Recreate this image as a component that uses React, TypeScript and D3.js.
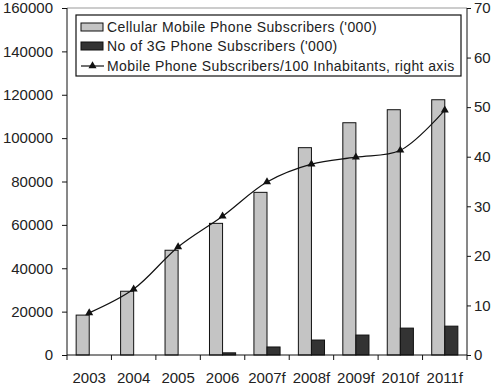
import { useEffect, useRef } from 'react';
import * as d3 from 'd3';

// 연도별 가입자 데이터
const years = ['2003', '2004', '2005', '2006', '2007f', '2008f', '2009f', '2010f', '2011f'];
const cellular = [18400, 29400, 48300, 60700, 75000, 95600, 107100, 113100, 117700];
const threeG = [0, 0, 0, 1000, 3700, 6900, 9200, 12400, 13300];
const per100 = [8.5, 13.3, 21.8, 28.0, 34.9, 38.5, 39.9, 41.3, 49.4];
const leftTicks = [0, 20000, 40000, 60000, 80000, 100000, 120000, 140000, 160000];
const rightTicks = [0, 10, 20, 30, 40, 50, 60, 70];
const legendLabels = [
  "Cellular Mobile Phone Subscribers ('000)",
  "No of 3G Phone Subscribers ('000)",
  'Mobile Phone Subscribers/100 Inhabitants, right axis',
];

export default function App() {
  const svgRef = useRef<SVGSVGElement>(null);

  useEffect(() => {
    if (!svgRef.current) return;
    const W = 500, H = 388;
    const plot = { left: 67, right: 467, top: 8, bottom: 355 };
    const font = 'Arial, "Liberation Sans", sans-serif';

    const svg = d3.select(svgRef.current);
    svg.selectAll('*').remove();
    svg.attr('width', W).attr('height', H);

    const x = d3.scaleBand().domain(years).range([plot.left, plot.right]).padding(0);
    const xs = d3.scaleBand().domain(['cell', 'g3']).range([0, x.bandwidth()])
      .paddingInner(0).paddingOuter(0.7);
    const yL = d3.scaleLinear().domain([0, 160000]).range([plot.bottom, plot.top]);
    const yR = d3.scaleLinear().domain([0, 70]).range([plot.bottom, plot.top]);

    // 상단 테두리
    svg.append('line')
      .attr('x1', plot.left).attr('x2', plot.right)
      .attr('y1', plot.top).attr('y2', plot.top)
      .attr('stroke', '#999').attr('stroke-width', 1);

    // 막대
    const g = svg.append('g');
    g.selectAll('rect.cell')
      .data(years)
      .join('rect')
      .attr('class', 'cell')
      .attr('x', (d) => x(d)! + xs('cell')!)
      .attr('y', (_, i) => yL(cellular[i]))
      .attr('width', xs.bandwidth())
      .attr('height', (_, i) => plot.bottom - yL(cellular[i]))
      .attr('fill', '#c4c4c4')
      .attr('stroke', '#111')
      .attr('stroke-width', 1);

    g.selectAll('rect.g3')
      .data(years.filter((_, i) => threeG[i] > 0))
      .join('rect')
      .attr('class', 'g3')
      .attr('x', (d) => x(d)! + xs('g3')!)
      .attr('y', (d) => yL(threeG[years.indexOf(d)]))
      .attr('width', xs.bandwidth())
      .attr('height', (d) => plot.bottom - yL(threeG[years.indexOf(d)]))
      .attr('fill', '#333')
      .attr('stroke', '#111')
      .attr('stroke-width', 1);

    // 선 (오른쪽 축)
    const cx = (d: string) => x(d)! + x.bandwidth() / 2;
    const line = d3.line<number>()
      .x((_, i) => cx(years[i]))
      .y((d) => yR(d))
      .curve(d3.curveCatmullRom.alpha(0.5));
    svg.append('path')
      .datum(per100)
      .attr('d', line)
      .attr('fill', 'none')
      .attr('stroke', '#111')
      .attr('stroke-width', 1.2);

    const tri = d3.symbol().type(d3.symbolTriangle).size(28);
    svg.selectAll('path.mk')
      .data(per100)
      .join('path')
      .attr('class', 'mk')
      .attr('d', tri)
      .attr('transform', (d, i) => `translate(${cx(years[i])},${yR(d)})`)
      .attr('fill', '#111');

    // 왼쪽 / 오른쪽 축
    const left = svg.append('g')
      .attr('transform', `translate(${plot.left},0)`)
      .call(d3.axisLeft(yL).tickValues(leftTicks).tickSize(5).tickPadding(9).tickFormat(d3.format('d')));
    const right = svg.append('g')
      .attr('transform', `translate(${plot.right},0)`)
      .call(d3.axisRight(yR).tickValues(rightTicks).tickSize(4).tickPadding(3).tickFormat(d3.format('d')));
    [left, right].forEach((ax) => {
      ax.select('.domain').remove();
      ax.selectAll('.tick line').attr('stroke', '#111');
      ax.selectAll('.tick text')
        .attr('font-family', font).attr('font-size', 15).attr('fill', '#222');
    });
    svg.append('line')
      .attr('x1', plot.left).attr('x2', plot.left)
      .attr('y1', plot.top).attr('y2', plot.bottom)
      .attr('stroke', '#111');
    svg.append('line')
      .attr('x1', plot.right).attr('x2', plot.right)
      .attr('y1', plot.top).attr('y2', plot.bottom)
      .attr('stroke', '#111');

    // X축
    svg.append('line')
      .attr('x1', plot.left).attr('x2', plot.right)
      .attr('y1', plot.bottom).attr('y2', plot.bottom)
      .attr('stroke', '#111');
    svg.selectAll('line.xt')
      .data(years.concat(['end']))
      .join('line')
      .attr('class', 'xt')
      .attr('x1', (d, i) => (i < years.length ? x(d)! : plot.right))
      .attr('x2', (d, i) => (i < years.length ? x(d)! : plot.right))
      .attr('y1', plot.bottom).attr('y2', plot.bottom + 5)
      .attr('stroke', '#111');
    svg.selectAll('text.xl')
      .data(years)
      .join('text')
      .attr('class', 'xl')
      .attr('x', (d) => cx(d))
      .attr('y', 383)
      .attr('text-anchor', 'middle')
      .attr('font-family', font)
      .attr('font-size', 15)
      .attr('fill', '#222')
      .text((d) => d);

    // 범례
    const lg = svg.append('g');
    lg.append('rect')
      .attr('x', 76).attr('y', 15).attr('width', 385).attr('height', 61)
      .attr('fill', '#fff').attr('stroke', '#111').attr('stroke-width', 1.2);
    const rowY = [27, 46, 66];
    lg.append('rect').attr('x', 81).attr('y', rowY[0] - 4).attr('width', 22).attr('height', 8)
      .attr('fill', '#c4c4c4').attr('stroke', '#111');
    lg.append('rect').attr('x', 81).attr('y', rowY[1] - 4).attr('width', 22).attr('height', 8)
      .attr('fill', '#333').attr('stroke', '#111');
    lg.append('line').attr('x1', 81).attr('x2', 104).attr('y1', rowY[2]).attr('y2', rowY[2])
      .attr('stroke', '#111').attr('stroke-width', 1.2);
    lg.append('path').attr('d', tri)
      .attr('transform', `translate(92.5,${rowY[2]})`).attr('fill', '#111');
    lg.selectAll('text')
      .data(legendLabels)
      .join('text')
      .attr('x', 107)
      .attr('y', (_, i) => rowY[i] + 5)
      .attr('font-family', font)
      .attr('font-size', 14)
      .attr('letter-spacing', 0.4)
      .attr('fill', '#222')
      .text((d) => d);
  }, []);

  return (
    <div style={{ position: 'absolute', left: 0, top: 0, background: '#fff' }}>
      <svg ref={svgRef} style={{ display: 'block' }} />
    </div>
  );
}
